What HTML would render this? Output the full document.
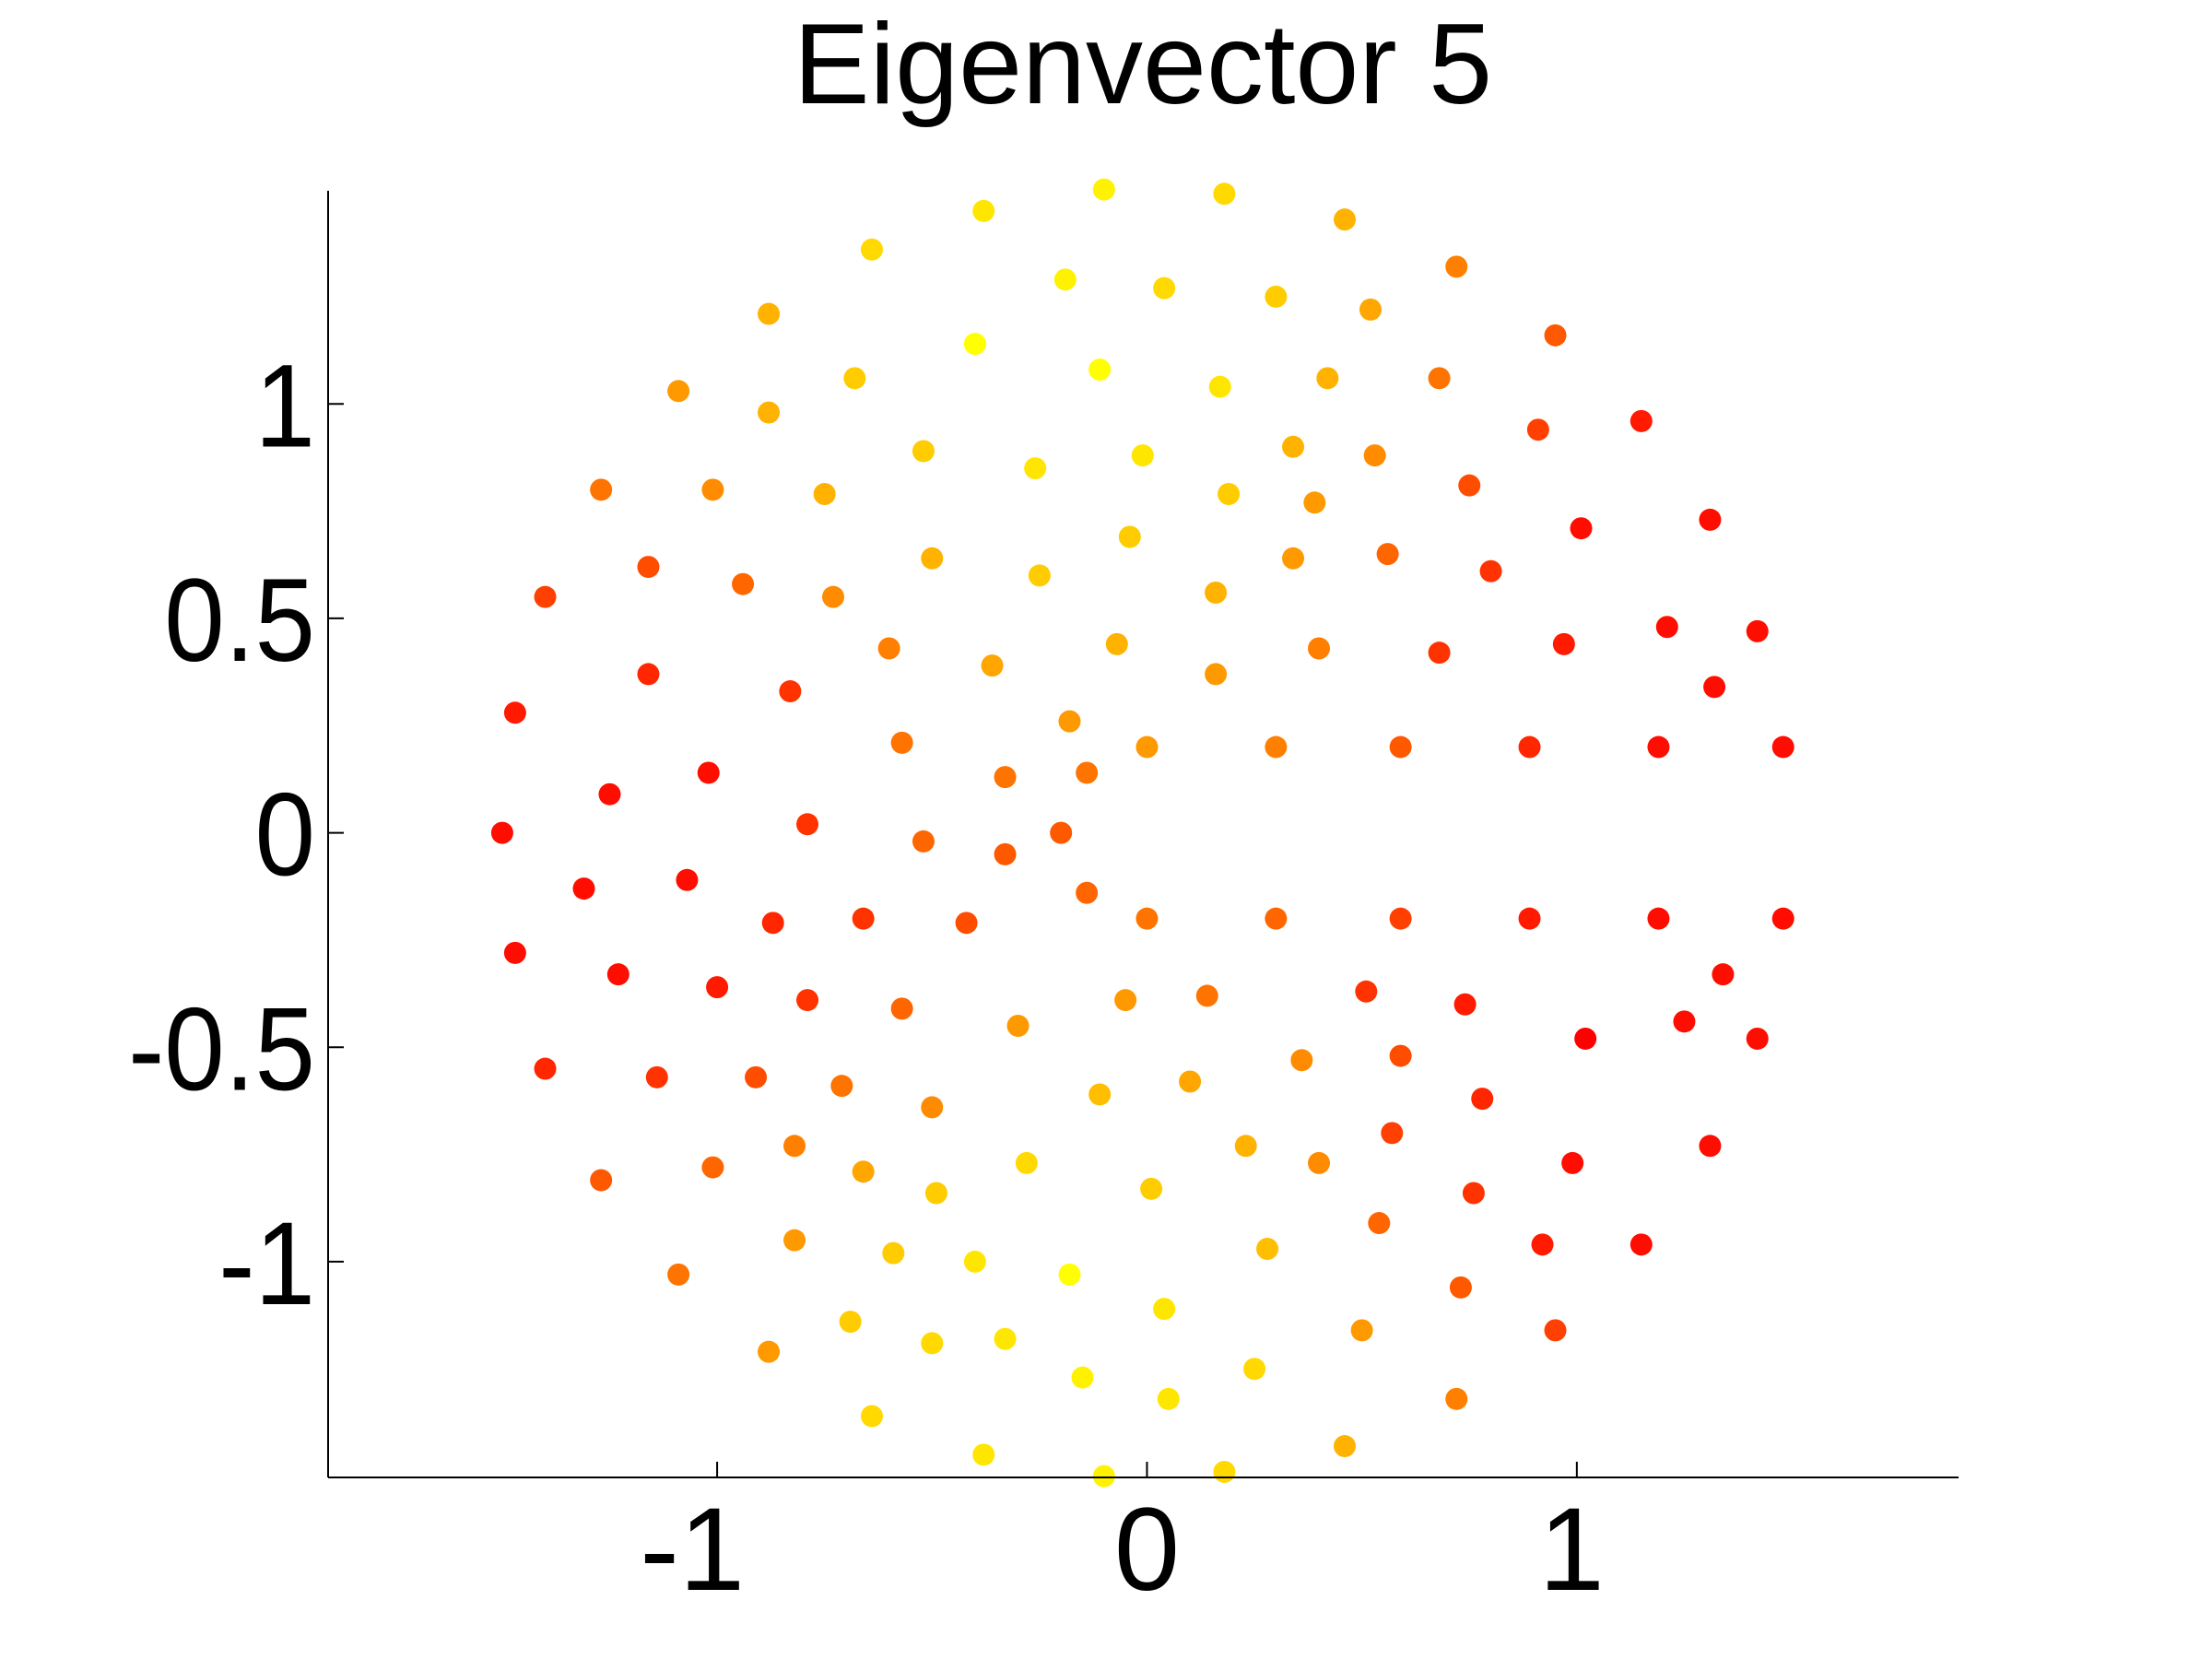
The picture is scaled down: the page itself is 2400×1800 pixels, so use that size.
<!DOCTYPE html>
<html><head><meta charset="utf-8"><style>
html,body{margin:0;padding:0;background:#fff;width:2400px;height:1800px;overflow:hidden}
svg{display:block}
text{font-family:"Liberation Sans",Arial,sans-serif;fill:#000}
</style></head><body>
<svg id="chart" width="2400" height="1800" viewBox="0 0 2400 1800" xmlns="http://www.w3.org/2000/svg">
<text x="1240" y="112" font-size="124" text-anchor="middle">Eigenvector 5</text>
<g id="dots"></g>
<g id="axes"></g>
</svg>
<script>
const xs=[-0.10,0.18,-0.38,0.46,-0.64,0.72,-0.19,0.04,0.30,-0.88,0.52,0.95,-0.40,-0.11,-0.68,0.17,0.42,0.68,-1.09,-0.88,1.15,0.91,-0.52,-0.01,0.34,0.53,-0.26,-1.27,-1.01,-0.75,0.19,0.39,0.75,1.31,1.01,-0.04,-0.50,0.34,0.56,-1.16,-0.25,0.80,-0.94,-0.73,-1.40,0.16,1.21,1.42,-0.60,-0.07,0.40,0.97,-0.36,0.68,-1.16,0.16,1.32,-0.83,-1.47,-0.18,-0.57,0.00,0.30,0.59,0.89,1.19,1.48,-1.02,-0.33,-0.14,-1.25,-0.79,-1.50,-0.20,-0.52,-0.33,-1.31,-1.07,-0.14,0.00,0.30,0.59,0.89,1.19,1.48,-0.87,-0.66,-0.42,-1.47,1.34,-1.23,-1.00,0.51,0.14,-0.05,-0.79,0.74,-0.57,-0.30,1.25,1.02,1.42,0.36,0.59,-1.40,-1.14,-0.91,0.10,-0.71,-0.11,0.78,-0.50,0.57,1.31,-0.82,0.23,-0.28,0.40,0.99,-1.01,-0.66,-1.27,0.01,0.76,-0.49,0.54,-0.82,0.92,0.28,1.15,-0.59,-0.40,-0.18,-1.09,0.73,0.04,-0.69,0.50,0.95,-0.50,-0.33,-0.88,0.25,-0.15,0.05,0.72,-0.64,0.46,-0.38,0.18,-0.10];
const ys=[1.50,1.49,1.45,1.43,1.36,1.32,1.29,1.27,1.25,1.21,1.22,1.16,1.14,1.08,1.06,1.04,1.06,1.06,1.03,0.98,0.96,0.94,0.89,0.88,0.90,0.88,0.85,0.80,0.80,0.79,0.79,0.77,0.81,0.73,0.71,0.69,0.64,0.64,0.65,0.62,0.60,0.61,0.58,0.55,0.55,0.56,0.48,0.47,0.43,0.44,0.43,0.44,0.39,0.42,0.37,0.37,0.34,0.33,0.28,0.26,0.21,0.20,0.20,0.20,0.20,0.20,0.20,0.14,0.13,0.14,0.09,0.02,0.00,0.00,-0.02,-0.05,-0.13,-0.11,-0.14,-0.20,-0.20,-0.20,-0.20,-0.20,-0.20,-0.21,-0.20,-0.21,-0.28,-0.33,-0.33,-0.36,-0.37,-0.38,-0.39,-0.39,-0.40,-0.41,-0.45,-0.44,-0.48,-0.48,-0.53,-0.52,-0.55,-0.57,-0.57,-0.58,-0.59,-0.61,-0.62,-0.64,-0.70,-0.73,-0.73,-0.73,-0.77,-0.77,-0.77,-0.78,-0.79,-0.81,-0.83,-0.84,-0.84,-0.91,-0.95,-0.96,-0.97,-0.96,-0.98,-1.00,-1.03,-1.03,-1.06,-1.11,-1.14,-1.16,-1.16,-1.19,-1.18,-1.21,-1.25,-1.27,-1.32,-1.32,-1.36,-1.43,-1.45,-1.49,-1.50];
const cs=[0.95,0.85,0.9,0.7,0.85,0.5,0.95,0.85,0.8,0.7,0.65,0.35,1.0,1.0,0.8,0.9,0.7,0.45,0.6,0.7,0.1,0.25,0.8,0.9,0.7,0.55,0.9,0.45,0.55,0.7,0.8,0.6,0.3,0.05,0.05,0.8,0.7,0.6,0.4,0.3,0.8,0.2,0.4,0.55,0.25,0.7,0.05,0.05,0.5,0.7,0.5,0.1,0.65,0.2,0.15,0.6,0.05,0.2,0.1,0.6,0.45,0.6,0.5,0.35,0.15,0.05,0.05,0.05,0.45,0.45,0.05,0.2,0.05,0.35,0.4,0.35,0.05,0.05,0.4,0.45,0.4,0.25,0.1,0.05,0.05,0.15,0.2,0.3,0.05,0.05,0.05,0.1,0.2,0.45,0.6,0.2,0.1,0.4,0.6,0.05,0.0,0.05,0.55,0.3,0.15,0.2,0.3,0.65,0.45,0.75,0.15,0.55,0.25,0.05,0.5,0.7,0.85,0.55,0.05,0.4,0.65,0.35,0.8,0.2,0.8,0.4,0.6,0.1,0.75,0.05,0.8,0.9,1.0,0.45,0.35,0.9,0.8,0.6,0.25,0.85,0.9,0.6,0.85,0.95,0.9,0.5,0.85,0.7,0.9,0.85,0.95];
const xTicks=[-1,0,1];
const xTickLabels=["-1","0","1"];
const yTicks=[-1,-0.5,0,0.5,1];
const yTickLabels=["-1","-0.5","0","0.5","1"];
const X0=356,X1=2125,Y0=1603,Y1=207,xmin=-1.905,xmax=1.888,ymin=-1.503,ymax=1.497;
const sx=v=>X0+(v-xmin)/(xmax-xmin)*(X1-X0);
const sy=v=>Y0-(v-ymin)/(ymax-ymin)*(Y0-Y1);
const NS="http://www.w3.org/2000/svg";
const dots=document.getElementById('dots'),axes=document.getElementById('axes');
function mk(t,a,p){const e=document.createElementNS(NS,t);for(const k in a)e.setAttribute(k,a[k]);p.appendChild(e);return e;}
for(let i=0;i<xs.length;i++){
  const g=Math.round(255*cs[i]);
  const c=mk('circle',{cx:sx(xs[i]),cy:sy(ys[i]),r:12,fill:`rgb(255,${g},0)`},dots);
  
  
}
const yl=mk('line',{x1:X0,y1:Y1,x2:X0,y2:Y0,stroke:'#000','stroke-width':2},axes);


const xl=mk('line',{x1:X0,y1:Y0,x2:X1,y2:Y0,stroke:'#000','stroke-width':2},axes);


xTicks.forEach((v,i)=>{
  const t=mk('line',{x1:sx(v),y1:Y0,x2:sx(v),y2:Y0-17,stroke:'#000','stroke-width':2},axes);
  
  
  const zero=(v===0);
  const l=mk('text',{x:zero?sx(v):sx(v)+30,y:1725,'font-size':128,'text-anchor':zero?'middle':'end'},axes);
  l.textContent=xTickLabels[i];
  
  
});
yTicks.forEach((v,i)=>{
  const t=mk('line',{x1:X0,y1:sy(v),x2:X0+17,y2:sy(v),stroke:'#000','stroke-width':2},axes);
  
  
  const l=mk('text',{x:342,y:sy(v)+46,'font-size':128,'text-anchor':'end',transform:`translate(342 0) scale(0.92 1) translate(-342 0)`},axes);
  l.textContent=yTickLabels[i];
  
  
});
</script>
</body></html>
